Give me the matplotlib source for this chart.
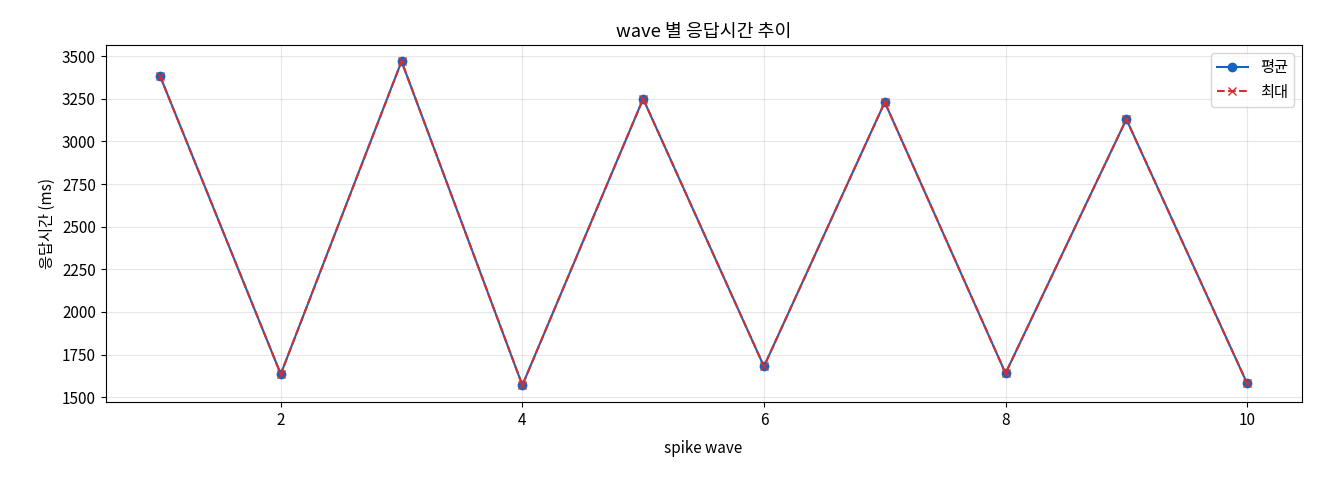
import matplotlib
matplotlib.use('Agg')
import matplotlib.pyplot as plt

plt.rcParams['font.family'] = ['Noto Sans CJK KR', 'DejaVu Sans']
plt.rcParams['font.size'] = 11

waves = [1, 2, 3, 4, 5, 6, 7, 8, 9, 10]
avg_ms = [3385, 1635, 3470, 1570, 3250, 1680, 3230, 1640, 3130, 1580]
max_ms = [3385, 1635, 3470, 1570, 3250, 1680, 3230, 1640, 3130, 1580]

fig, ax = plt.subplots(figsize=(13.2, 4.8), dpi=100)
ax.plot(waves, avg_ms, '-o', color='#1565c0', label='평균', markersize=6)
ax.plot(waves, max_ms, '--x', color='#d32f2f', label='최대', markersize=6)
ax.set_title('wave 별 응답시간 추이')
ax.set_xlabel('spike wave', labelpad=8)
ax.set_ylabel('응답시간 (ms)')
ax.set_ylim(1470, 3565)
ax.set_yticks(range(1500, 3501, 250))
ax.grid(True, alpha=0.3)
ax.legend(loc='upper right')
fig.subplots_adjust(left=0.08, right=0.986, top=0.906, bottom=0.162)
fig.savefig('out.png')
